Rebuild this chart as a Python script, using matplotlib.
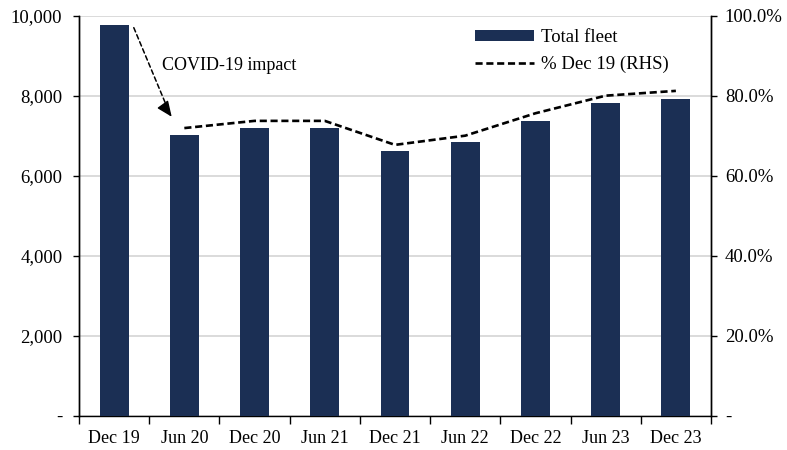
import matplotlib
matplotlib.use("Agg")
import matplotlib.pyplot as plt
from matplotlib.ticker import FuncFormatter
import numpy as np

categories = ["Dec 19", "Jun 20", "Dec 20", "Jun 21", "Dec 21", "Jun 22", "Dec 22", "Jun 23", "Dec 23"]
total_fleet = [9775, 7005, 7190, 7190, 6605, 6830, 7373, 7806, 7916]
pct_dec19 = [np.nan, 71.9, 73.7, 73.7, 67.7, 70.0, 75.6, 80.0, 81.2]

plt.rcParams['font.family'] = ['Liberation Serif', 'DejaVu Serif']
plt.rcParams['font.size'] = 13.5

bar_color = "#1b2f54"

fig = plt.figure(figsize=(7.87, 4.5), dpi=100)
ax = fig.add_axes([0.1004, 0.0762, 0.803, 0.889])
ax2 = ax.twinx()

x = np.arange(len(categories))
ax.bar(x, total_fleet, width=0.41, color=bar_color, label="Total fleet", zorder=3)
line, = ax2.plot(x, pct_dec19, color="black", lw=1.9, dashes=(2.7, 1.4), label="% Dec 19 (RHS)")

ax.set_xlim(-0.5, len(categories) - 0.5)
ax.set_ylim(0, 10000)
ax2.set_ylim(0, 100)
ax.set_yticks(np.arange(0, 10001, 2000))
ax2.set_yticks(np.arange(0, 101, 20))
ax.yaxis.set_major_formatter(FuncFormatter(lambda v, p: "-" if v == 0 else f"{v:,.0f}"))
ax2.yaxis.set_major_formatter(FuncFormatter(lambda v, p: "-" if v == 0 else f"{v:.1f}%"))

ax.grid(axis="y", color="#d4d4d4", lw=1.2, zorder=0)
ax.set_axisbelow(True)

ax.set_xticks(x)
ax.set_xticklabels(categories, fontsize=13)
ax.set_xticks(np.arange(-0.5, len(categories), 1), minor=True)
ax.tick_params(axis="x", which="major", length=0, pad=10)
ax.tick_params(axis="x", which="minor", length=6, direction="out", width=1)
ax.tick_params(axis="y", length=4, width=1, pad=8)
ax2.tick_params(axis="y", length=4, width=1, pad=6)

for a in (ax, ax2):
    a.spines["top"].set_visible(False)
    for s in ("left", "right", "bottom"):
        a.spines[s].set_color("black")
        a.spines[s].set_linewidth(1)
ax2.spines["bottom"].set_visible(False)

# COVID annotation
ax.annotate("", xy=(0.80, 7520), xytext=(0.28, 9700),
            arrowprops=dict(arrowstyle="-", color="black", lw=1.1, linestyle=(0, (3, 2)),
                            shrinkA=0, shrinkB=0), zorder=5)
ax.annotate("", xy=(0.82, 7473), xytext=(0.78, 7570),
            arrowprops=dict(arrowstyle="-|>,head_length=0.7,head_width=0.3", color="black", lw=1,
                            shrinkA=0, shrinkB=0), zorder=5)
ax.text(0.68, 8750, "COVID-19 impact", ha="left", va="center", fontsize=13)

h1, l1 = ax.get_legend_handles_labels()
h2, l2 = ax2.get_legend_handles_labels()
leg = ax2.legend(h1 + h2, l1 + l2, loc="upper left",
                 bbox_to_anchor=(475 / 787, (450 - 29) / 450), bbox_transform=fig.transFigure,
                 frameon=False, fontsize=13.5, handlelength=3.15, handleheight=0.5,
                 labelspacing=0.5, handletextpad=0.35, borderpad=0, borderaxespad=0)

fig.savefig("out.png", dpi=100)
